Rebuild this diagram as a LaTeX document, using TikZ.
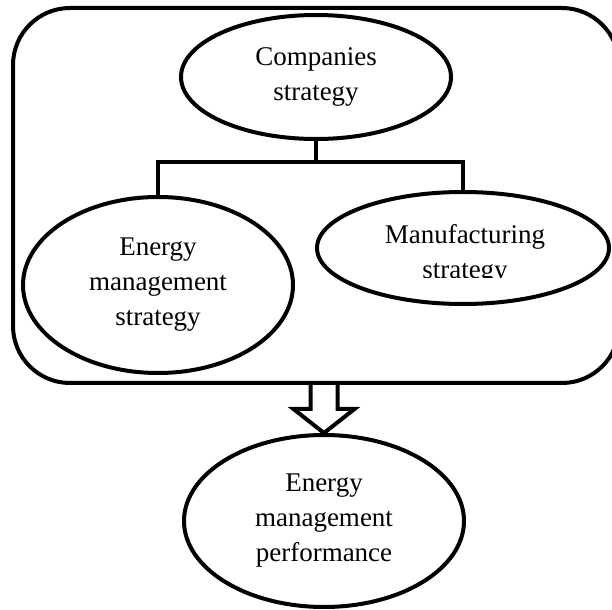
\documentclass[tikz,border=0pt]{standalone}
\usepackage{fontspec}
\setmainfont{Liberation Serif}
\usetikzlibrary{shapes.geometric,calc}

\begin{document}
\begin{tikzpicture}[x=0.5pt,y=-0.5pt,
  lbl/.style={align=center,inner sep=0pt,font=\fontsize{13.5}{17.5}\selectfont},
  blob/.style={lbl,draw,ellipse,line width=2pt},
  box/.style={draw,rounded corners=28.5pt,line width=2pt,
              minimum width=303pt,minimum height=187.5pt},
  link/.style={line width=2pt},
  hollow/.style={line width=2pt,line join=miter},
]
  \useasboundingbox (0,0) rectangle (612,610);
  \clip (0,0) rectangle (612,610);

  % Outer frame
  \node[box] (frame) at (316,195.5) {};

  % Companies strategy
  \node[blob,minimum width=135pt,minimum height=62pt] (comp) at (316,77) {Companies\\strategy};

  % Energy management strategy
  \node[blob,minimum width=135pt,minimum height=88pt] (ems) at (158,285) {Energy\\management\\strategy};

  % Manufacturing strategy (text box cut off at the bottom)
  \node[blob,minimum width=146pt,minimum height=56pt] (mfg) at (463,248) {};
  \begin{scope}
    \clip (360,200) rectangle (570,278);
    \node[lbl] (mfgtext) at (465,254) {Manufacturing\\strategy};
  \end{scope}

  % Branches
  \coordinate (split) at (316,162);
  \draw[link] (comp) -- (split);
  \draw[link] (ems.north) |- (split) -| (mfg.north);

  % Energy management performance
  \node[blob,minimum width=140pt,minimum height=86pt] (perf) at (324,521) {Energy\\management\\performance};

  % Hollow arrow down from the frame
  \draw[hollow] ($(frame.south -| perf.north)+(-13.5,0)$) |- ($(perf.north)+(-30.5,-24)$)
    -- (perf.north) -- ($(perf.north)+(30.5,-24)$) -| ($(frame.south -| perf.north)+(13.5,0)$);
\end{tikzpicture}
\end{document}
